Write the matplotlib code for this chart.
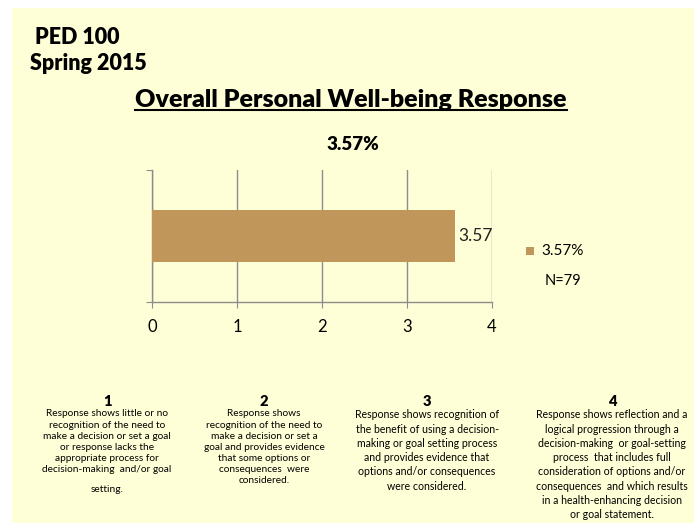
import matplotlib
matplotlib.use("Agg")
import matplotlib.pyplot as plt
from matplotlib.patches import Rectangle
from matplotlib.lines import Line2D

plt.rcParams['font.family'] = ['Lato', 'DejaVu Sans']

# data
categories = ['3.57%']
values = [3.57]
n_label = 'N=79'
x_ticks = [0, 1, 2, 3, 4]
rubric_levels = ['1', '2', '3', '4']
rubric_text = [
    "Response shows little or no\nrecognition of the need to\nmake a decision or set a goal\nor response lacks the\nappropriate process for\ndecision-making  and/or goal",
    "Response shows\nrecognition of the need to\nmake a decision or set a\ngoal and provides evidence\nthat some options or\nconsequences  were\nconsidered.",
    "Response shows recognition of\nthe benefit of using a decision-\nmaking or goal setting process\nand provides evidence that\noptions and/or consequences\nwere considered.",
    "Response shows reflection and a\nlogical progression through a\ndecision-making  or goal-setting\nprocess  that includes full\nconsideration of options and/or\nconsequences  and which results\nin a health-enhancing decision\nor goal statement.",
]
rubric_tail = 'setting.'

W, H = 694, 523
bg = '#FFFFD7'
bar_color = '#C0965A'
grid_color = '#8C8C8C'

fig = plt.figure(figsize=(W / 100, H / 100), dpi=100)
fig.patch.set_facecolor('white')
fig.add_artist(Rectangle((12 / W, 0), 1 - 12 / W, 1 - 8 / H,
                         transform=fig.transFigure, facecolor=bg, edgecolor='none', zorder=-10))

# header
fig.text(35 / W, 1 - 38 / H, 'PED 100', fontsize=15.5, fontweight='heavy', va='center', ha='left')
fig.text(30 / W, 1 - 63 / H, 'Spring 2015', fontsize=15.5, fontweight='heavy', va='center', ha='left')
title = fig.text(351 / W, 1 - 100 / H, 'Overall Personal Well-being Response',
                 fontsize=18, fontweight='heavy', va='center', ha='center')

# chart
ax = fig.add_axes([152 / W, 1 - 302 / H, 340 / W, 132 / H])
ax.set_facecolor('none')
ax.barh([0], values, height=0.4, color=bar_color, zorder=3)
for v in values:
    ax.text(v + 0.03, 0, f'{v:.2f}', va='center', ha='left', fontsize=12.5, color='#222222')
ax.set_xlim(0, 4)
ax.set_ylim(-0.5, 0.5)
ax.set_xticks(x_ticks)
ax.set_xticklabels([str(t) for t in x_ticks], fontsize=12)
ax.set_yticks([-0.5, 0.5])
ax.set_yticklabels(['', ''])
ax.tick_params(axis='x', length=4, color=grid_color, pad=8)
ax.tick_params(axis='y', length=4, color=grid_color)
ax.grid(axis='x', color=grid_color, linewidth=1, zorder=0)
for s in ['top', 'right']:
    ax.spines[s].set_visible(False)
for s in ['left', 'bottom']:
    ax.spines[s].set_color(grid_color)
    ax.spines[s].set_linewidth(1)

fig.text(353 / W, 1 - 145 / H, categories[0], fontsize=13.5, fontweight='heavy', ha='center', va='center')

# legend
fig.add_artist(Rectangle((526 / W, 1 - 255 / H), 8 / W, 8 / H, transform=fig.transFigure,
                         facecolor=bar_color, edgecolor='none'))
fig.text(541 / W, 1 - 251 / H, categories[0], fontsize=11, va='center', ha='left')
fig.text(545 / W, 1 - 281 / H, n_label, fontsize=10.5, va='center', ha='left')

# rubric: one text per line so the spacing follows the reference
col_x = [107, 264, 427, 612]
col_fs = [7.3, 7.3, 7.6, 7.6]
col_y0 = [414, 414, 415, 415]
col_step = [11.1, 11.1, 14.2, 14.2]
for x, lvl, txt, fs, y0, step in zip(col_x, rubric_levels, rubric_text, col_fs, col_y0, col_step):
    fig.text(x / W, 1 - 402 / H, lvl, fontsize=10.5, fontweight='heavy', ha='center', va='center')
    for i, line in enumerate(txt.split('\n')):
        fig.text(x / W, 1 - (y0 + i * step) / H, line, fontsize=fs, ha='center', va='center')
fig.text(col_x[0] / W, 1 - 490 / H, rubric_tail, fontsize=7.3, ha='center', va='center')

# underline the title
fig.canvas.draw()
bb = title.get_window_extent().transformed(fig.transFigure.inverted())
fig.add_artist(Line2D([bb.x0, bb.x1], [bb.y0 + 0.002, bb.y0 + 0.002], transform=fig.transFigure,
                      color='black', linewidth=1.5))

fig.savefig('out.png', dpi=100, facecolor=fig.get_facecolor())
